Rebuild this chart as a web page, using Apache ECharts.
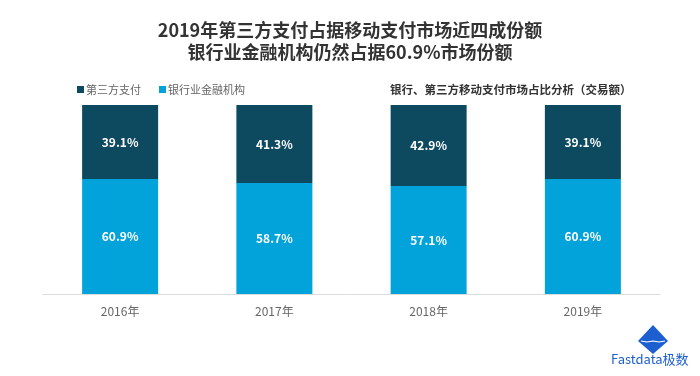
<!DOCTYPE html>
<html>
<head>
<meta charset="utf-8">
<script src="https://cdn.jsdelivr.net/npm/echarts@6/dist/echarts.min.js"></script>
<style>
  html, body { margin: 0; padding: 0; background: #fff; }
  #chart { width: 700px; height: 376px; }
</style>
</head>
<body>
<div id="chart"></div>
<script>
const years = ['2016年', '2017年', '2018年', '2019年'];
const bankShare = [60.9, 58.7, 57.1, 60.9];
const thirdPartyShare = [39.1, 41.3, 42.9, 39.1];

const DARK = '#0d4a5f';
const LIGHT = '#02a2da';
const FONT = '"Noto Sans CJK SC", "Open Sans", sans-serif';

const chart = echarts.init(document.getElementById('chart'));

const labelStyle = {
  show: true,
  position: 'inside',
  color: '#fff',
  fontSize: 12,
  fontWeight: 'bold',
  fontFamily: FONT,
  formatter: (p) => p.value.toFixed(1) + '%',
};

chart.setOption({
  backgroundColor: '#fff',
  animation: false,
  title: [
    {
      text: '2019年第三方支付占据移动支付市场近四成份额\n银行业金融机构仍然占据60.9%市场份额',
      left: 'center',
      top: 14,
      textStyle: {
        color: '#333',
        fontSize: 18,
        fontWeight: 'bold',
        fontFamily: FONT,
        lineHeight: 22,
      },
    },
    {
      text: '银行、第三方移动支付市场占比分析（交易额）',
      left: 385,
      top: 79,
      textStyle: {
        color: '#333',
        fontSize: 11.5,
        fontWeight: 'bold',
        fontFamily: FONT,
      },
    },
  ],
  legend: {
    left: 72,
    top: 79,
    itemWidth: 7,
    itemHeight: 7,
    itemGap: 18,
    icon: 'rect',
    data: ['第三方支付', '银行业金融机构'],
    textStyle: { color: '#666', fontSize: 11, fontFamily: FONT, padding: [0, 0, 0, -3] },
  },
  grid: { left: 43, right: 40, top: 105, bottom: 82 },
  xAxis: {
    type: 'category',
    data: years,
    axisLine: { lineStyle: { color: '#dcdcdc', width: 1 } },
    axisTick: { show: false },
    axisLabel: { color: '#666', fontSize: 12, fontFamily: FONT, margin: 11 },
  },
  yAxis: {
    type: 'value',
    min: 0,
    max: 100,
    show: false,
    splitLine: { show: false },
  },
  series: [
    {
      name: '银行业金融机构',
      type: 'bar',
      stack: 'share',
      barWidth: 76,
      itemStyle: { color: LIGHT },
      label: labelStyle,
      data: bankShare,
    },
    {
      name: '第三方支付',
      type: 'bar',
      stack: 'share',
      barWidth: 76,
      itemStyle: { color: DARK },
      label: labelStyle,
      data: thirdPartyShare,
    },
  ],
  graphic: [
    {
      type: 'polygon',
      shape: { points: [[653, 325], [668, 341], [653, 354], [638, 341]] },
      style: { fill: '#1d5fd0' },
    },
    {
      type: 'polyline',
      shape: { points: [[641, 341], [647, 342], [653, 341], [659, 342], [665, 341]] },
      style: { stroke: '#fff', lineWidth: 1.2, fill: null },
    },
    {
      type: 'text',
      left: 611,
      top: 353,
      style: {
        text: 'Fastdata极数',
        fill: '#1d5fd0',
        fontSize: 13,
        fontFamily: FONT,
      },
    },
  ],
});
</script>
</body>
</html>
